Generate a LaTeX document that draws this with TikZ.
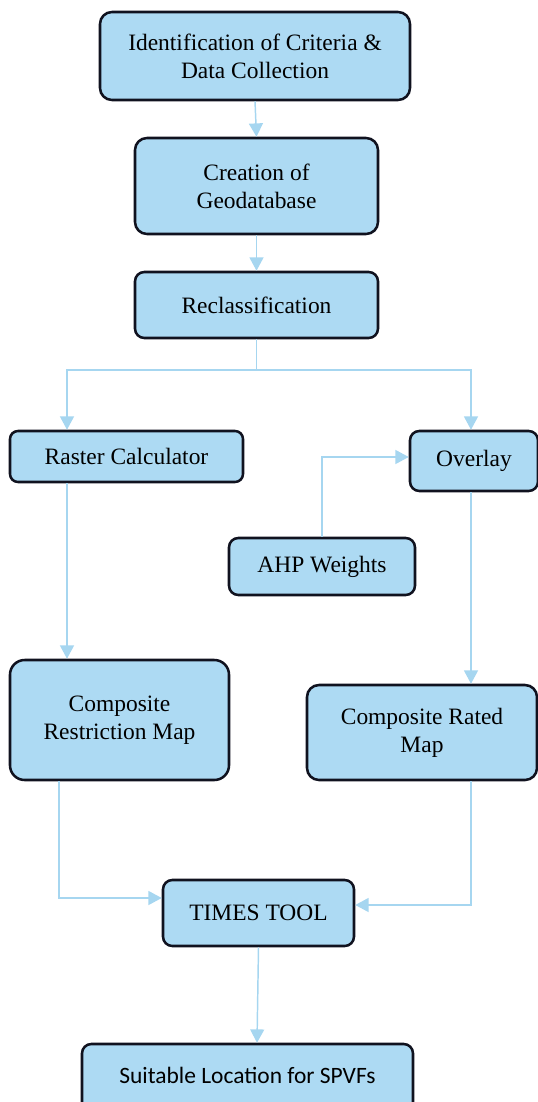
\documentclass[tikz,border=0pt]{standalone}
\usepackage{fontspec}
\setmainfont{Liberation Serif}
\newfontfamily\calfont{Carlito}
\usepackage{tikz}
\usetikzlibrary{arrows.meta,positioning}

\definecolor{boxfill}{HTML}{ADDAF3}
\definecolor{boxline}{HTML}{10121F}
\definecolor{flowline}{HTML}{A6D6F0}

\begin{document}
\begin{tikzpicture}[x=0.75pt,y=-0.75pt,>={Triangle[width=10.5pt,length=10pt]},
  box/.style={draw=boxline,line width=1.9pt,fill=boxfill,rounded corners=9pt,
    align=center,inner sep=2pt,font=\fontsize{17.6}{21}\selectfont},
  flow/.style={->,draw=flowline,line width=1.1pt}]
\useasboundingbox (0,0) rectangle (537,1102);
\node[box,minimum width=232.5pt,minimum height=66pt] (ident) at (255,56) {Identification of Criteria \&\\Data Collection};
\node[box,minimum width=182.25pt,minimum height=72pt] (geo) at (256.5,186) {Creation of\\Geodatabase};
\node[box,minimum width=182.25pt,minimum height=49.5pt,rounded corners=7pt] (recl) at (256.5,305) {Reclassification};
\node[box,minimum width=174.75pt,minimum height=38.25pt,rounded corners=6pt] (raster) at (126.5,456.5) {Raster Calculator};
\node[box,minimum width=96pt,minimum height=45pt,rounded corners=7pt] (overlay) at (474,461) {Overlay};
\node[box,minimum width=139.5pt,minimum height=42.75pt,rounded corners=7pt] (ahp) at (322,566.5) {AHP Weights};
\node[box,minimum width=164.25pt,minimum height=90pt,rounded corners=11pt] (restr) at (119.5,720) {Composite\\Restriction Map};
\node[box,minimum width=172.5pt,minimum height=71.25pt,rounded corners=9pt] (rated) at (422,732.5) {Composite Rated\\Map};
\node[box,minimum width=143.25pt,minimum height=49.5pt,rounded corners=7pt] (times) at (258.5,913) {TIMES TOOL};
\node[box,minimum width=248.25pt,minimum height=51pt,rounded corners=7pt,font=\calfont\fontsize{17.6}{21}\selectfont] (suit) at (247.5,1078) {\raisebox{4.5pt}{Suitable Location for SPVFs}};
% main chain
\draw[flow] (ident.south) -- (geo.north);
\draw[flow] (geo.south) -- (recl.north);
\coordinate (split) at (256.5,370);
\draw[flow] (recl.south) -- (split) -| (raster.north -| 67,0);
\draw[flow] (split) -| (overlay.north -| 471,0);
\draw[flow] (raster.south -| 67,0) -- (restr.north -| 67,0);
\draw[flow] (overlay.south -| 471,0) -- (rated.north -| 471,0);
\draw[flow] (ahp.north) |- (overlay.west |- 0,457);
% into times tool
\draw[flow] (restr.south -| 59,0) |- (times.west |- 0,898);
\draw[flow] (rated.south -| 471,0) |- (times.east |- 0,905);
\draw[flow] (times.south) -- (suit.north -| 257,0);
\end{tikzpicture}
\end{document}
